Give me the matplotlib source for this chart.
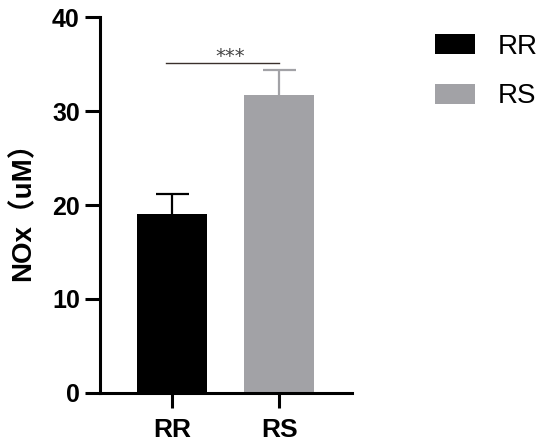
import matplotlib
matplotlib.use("Agg")
import matplotlib.pyplot as plt
from matplotlib.patches import Patch

categories = ["RR", "RS"]
means = [19.05, 31.7]
errors = [2.1, 2.65]
bar_colors = ["#000000", "#a2a2a6"]
err_colors = ["#000000", "#a2a2a6"]
yticks = [0, 10, 20, 30, 40]
sig_text = "***"
sig_y = 35.1
ylabel = "NOx（uM）"

fam = ["Liberation Sans", "Noto Sans CJK SC", "DejaVu Sans"]
plt.rcParams["font.family"] = fam

fig = plt.figure(figsize=(5.5, 4.48), dpi=100)
ax = fig.add_axes([0.1818, 0.1234, 0.4576, 0.838])

x = list(range(len(categories)))
ax.bar(x, means, width=0.654, color=bar_colors, zorder=2)
cap_w = 0.31
for xi, m, e, c in zip(x, means, errors, err_colors):
    ax.vlines(xi, m, m + e, color=c, lw=1.6, zorder=1)
    ax.hlines(m + e, xi - cap_w / 2, xi + cap_w / 2, color=c, lw=1.6, zorder=1)

ax.set_xlim(-0.676, 1.677)
ax.set_ylim(0, 40)
ax.set_yticks(yticks)
ax.set_xticks(x)
ax.set_xticklabels(categories)

for s in ["top", "right"]:
    ax.spines[s].set_visible(False)
for s in ["left", "bottom"]:
    ax.spines[s].set_linewidth(2.2)
ax.tick_params(axis="both", length=10.5, width=2.2, direction="out")
ax.tick_params(axis="y", labelsize=18, pad=4)
ax.tick_params(axis="x", labelsize=19, pad=8)
for lab in ax.get_xticklabels() + ax.get_yticklabels():
    lab.set_fontweight("bold")

ax.set_ylabel(ylabel, fontsize=20, fontweight="bold", labelpad=11)

ax.plot([-0.06, 1.0], [sig_y, sig_y], color="#3a302c", lw=1.0, clip_on=False)
ax.text(0.54, sig_y + 0.1, sig_text, ha="center", va="baseline", fontsize=14,
        color="#444444", family=["DejaVu Sans"])

handles = [Patch(facecolor=c, edgecolor="none") for c in bar_colors]
fig.legend(handles, categories, loc="upper left", bbox_to_anchor=(0.79, 0.924),
           frameon=False, fontsize=20, handlelength=1.44, handleheight=0.72,
           labelspacing=0.84, handletextpad=0.83, borderaxespad=0,
           borderpad=0)

fig.savefig("out.png", dpi=100)
